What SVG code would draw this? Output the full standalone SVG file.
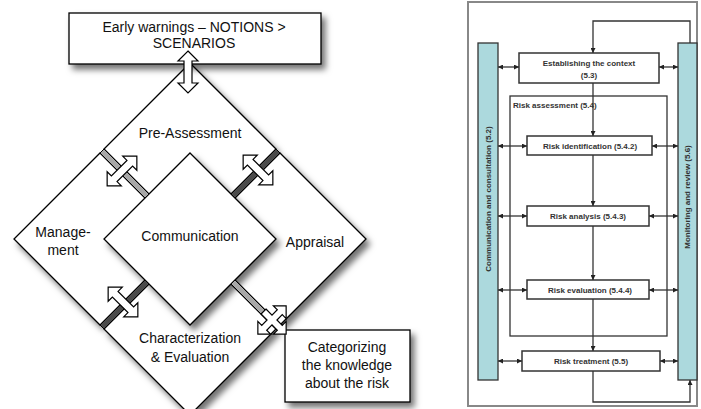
<svg xmlns="http://www.w3.org/2000/svg" width="701" height="409" viewBox="0 0 701 409">
<defs>
<filter id="sh" x="-20%" y="-20%" width="150%" height="150%">
<feDropShadow dx="4" dy="5" stdDeviation="3" flood-color="#000" flood-opacity="0.55"/>
</filter>
<polygon id="darr" points="-21,0 -11,-10 -11,-4 11,-4 11,-10 21,0 11,10 11,4 -11,4 -11,10"/>
<marker id="ah" viewBox="0 0 6 6" refX="6" refY="3" markerWidth="5" markerHeight="5" orient="auto-start-reverse" markerUnits="userSpaceOnUse">
<path d="M0,0 L6,3 L0,6 Z" fill="#222"/>
</marker>
<style>
.dia{fill:#fff;stroke:#000;stroke-width:1.3;filter:url(#sh)}
.lbl{font-family:"Liberation Sans",Arial,sans-serif;font-size:14px;fill:#111;text-anchor:middle}
.arr{fill:#fff;stroke:#000;stroke-width:1.2}
.gapL{fill:#a8a8a8;stroke:#000;stroke-width:1}
.gapD{fill:#4a4a4a;stroke:#000;stroke-width:1}
.bar{fill:#acd9dd;stroke:#333;stroke-width:1.3}
.bx{fill:#fff;stroke:#333;stroke-width:1.5}
.rt{font-family:"Liberation Sans",Arial,sans-serif;font-size:8px;font-weight:bold;fill:#333;text-anchor:middle}
.ln{fill:none;stroke:#333;stroke-width:1.3}
</style>
</defs>
<rect width="701" height="409" fill="#fff"/>

<!-- LEFT DIAGRAM -->
<g id="pre-assessment">
<polygon class="dia" points="190,63 276,149 190,235 104,149"/>
<text class="lbl" x="190" y="138">Pre-Assessment</text>
</g>
<g id="management">
<polygon class="dia" points="100,153 186,239 100,325 14,239"/>
<text class="lbl" x="63" y="237">Manage-</text>
<text class="lbl" x="63" y="255">ment</text>
</g>
<g id="appraisal">
<polygon class="dia" points="280,153 366,239 280,325 194,239"/>
<text class="lbl" x="315" y="247">Appraisal</text>
</g>
<g id="characterization">
<polygon class="dia" points="190,243 276,329 190,415 104,329"/>
<text class="lbl" x="190" y="343">Characterization</text>
<text class="lbl" x="190" y="362">&amp; Evaluation</text>
</g>
<g id="communication">
<polygon class="dia" points="190,153 276,239 190,325 104,239"/>
<text class="lbl" x="190" y="241">Communication</text>
</g>
<g id="categorizing">
<rect x="285" y="330" width="125" height="72" fill="#fff" stroke="#000" stroke-width="1.3" filter="url(#sh)"/>
<text class="lbl" x="347" y="352">Categorizing</text>
<text class="lbl" x="347" y="370">the knowledge</text>
<text class="lbl" x="347" y="388">about the risk</text>
</g>
<g id="early-warnings">
<rect x="69" y="13" width="252" height="51" fill="#fff" stroke="#000" stroke-width="1.3" filter="url(#sh)"/>
<text class="lbl" x="194" y="32">Early warnings – NOTIONS &gt;</text>
<text class="lbl" x="194" y="48">SCENARIOS</text>
</g>

<g id="connectors-left">
<polygon class="gapL" points="104,149 100,153 145,198 149,194"/>
<polygon class="gapD" points="276,149 280,153 235,198 231,194"/>
<polygon class="gapD" points="100,325 104,329 149,284 145,280"/>
<polygon class="gapL" points="280,325 276,329 231,284 235,280"/>
<use href="#darr" class="arr" transform="translate(188,72) rotate(90)"/>
<use href="#darr" class="arr" transform="translate(122,171) rotate(-45)"/>
<use href="#darr" class="arr" transform="translate(258,170) rotate(45)"/>
<use href="#darr" class="arr" transform="translate(123,302) rotate(45)"/>
<polygon class="arr" transform="translate(272,320) rotate(45)" points="-12,-3.5 -3.5,-3.5 -3.5,-11 -9,-11 0,-20 9,-11 3.5,-11 3.5,-3.5 11,-3.5 11,-9 20,0 11,9 11,3.5 3.5,3.5 3.5,11 9,11 0,20 -9,11 -3.5,11 -3.5,3.5 -12,3.5"/>
</g>

<!-- RIGHT DIAGRAM -->
<rect x="468" y="2" width="229" height="404" fill="none" stroke="#888" stroke-width="2"/>
<g id="comm-bar">
<rect class="bar" x="478" y="43" width="20" height="337"/>
<text class="rt" transform="translate(491,199) rotate(-90)">Communication and consultation (5.2)</text>
</g>
<g id="monitor-bar">
<rect class="bar" x="678" y="43" width="19" height="337"/>
<text class="rt" transform="translate(690,197) rotate(-90)">Monitoring and review (5.6)</text>
</g>
<g id="risk-assessment">
<rect x="510" y="96" width="157" height="240" fill="none" stroke="#333" stroke-width="1.3"/>
<text class="rt" x="513" y="108" text-anchor="start" style="text-anchor:start">Risk  assessment (5.4)</text>
</g>
<g id="establishing">
<rect class="bx" x="519" y="53" width="140" height="30"/>
<text class="rt" x="589" y="66">Establishing the context</text>
<text class="rt" x="589" y="78">(5.3)</text>
</g>
<g id="identification">
<rect class="bx" x="527" y="136" width="125" height="19"/>
<text class="rt" x="590" y="149">Risk identification (5.4.2)</text>
</g>
<g id="analysis">
<rect class="bx" x="527" y="206" width="122" height="20"/>
<text class="rt" x="588" y="219">Risk analysis (5.4.3)</text>
</g>
<g id="evaluation">
<rect class="bx" x="527" y="280" width="122" height="19"/>
<text class="rt" x="590" y="293">Risk evaluation (5.4.4)</text>
</g>
<g id="treatment">
<rect class="bx" x="522" y="351" width="138" height="20"/>
<text class="rt" x="591" y="364">Risk treatment (5.5)</text>
</g>
<g id="connectors-right">
<path class="ln" d="M690,43 V21 H593 V53" marker-end="url(#ah)"/>
<path class="ln" d="M593,371 V402 H690 V380" marker-end="url(#ah)"/>
<path class="ln" d="M593,83 V136" marker-end="url(#ah)"/>
<path class="ln" d="M593,155 V206" marker-end="url(#ah)"/>
<path class="ln" d="M593,226 V280" marker-end="url(#ah)"/>
<path class="ln" d="M593,299 V351" marker-end="url(#ah)"/>
<path class="ln" d="M498,67 H519" marker-start="url(#ah)" marker-end="url(#ah)"/>
<path class="ln" d="M659,67 H678" marker-start="url(#ah)" marker-end="url(#ah)"/>
<path class="ln" d="M498,146 H527" marker-start="url(#ah)" marker-end="url(#ah)"/>
<path class="ln" d="M652,146 H678" marker-start="url(#ah)" marker-end="url(#ah)"/>
<path class="ln" d="M498,216 H527" marker-start="url(#ah)" marker-end="url(#ah)"/>
<path class="ln" d="M649,216 H678" marker-start="url(#ah)" marker-end="url(#ah)"/>
<path class="ln" d="M498,290 H527" marker-start="url(#ah)" marker-end="url(#ah)"/>
<path class="ln" d="M649,290 H678" marker-start="url(#ah)" marker-end="url(#ah)"/>
<path class="ln" d="M498,361 H522" marker-start="url(#ah)" marker-end="url(#ah)"/>
<path class="ln" d="M660,361 H678" marker-start="url(#ah)" marker-end="url(#ah)"/>
</g>
</svg>
